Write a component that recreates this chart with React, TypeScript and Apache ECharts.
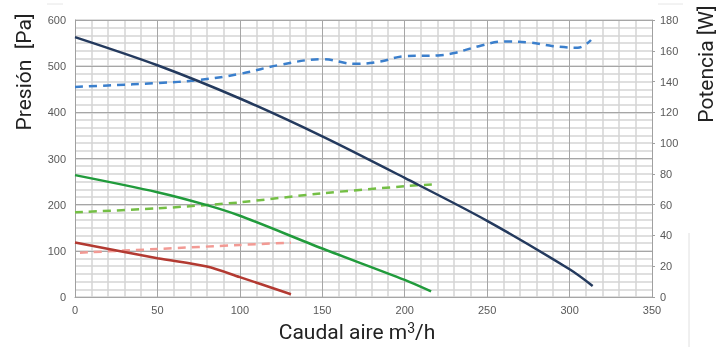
import React, { useEffect, useRef } from "react";
import * as echarts from "echarts";

// Pressure curves (left axis, Pa) vs flow (m3/h)
const navyFlow = [0, 50, 100, 150, 200, 250, 300, 314];
const navyPress = [563, 502, 430, 348, 258, 165, 60, 24];
const greenFlow = [0, 50, 80, 100, 150, 200, 216];
const greenPress = [264, 227, 199, 176, 105, 37, 12];
const redFlow = [0, 50, 80, 100, 131];
const redPress = [118, 84, 66, 43, 6];

// Power curves (right axis, W) vs flow
const blueFlow = [0, 20, 50, 75, 100, 125, 150, 170, 185, 200, 220, 230, 245, 260, 275, 290, 305, 313];
const bluePower = [136.5, 137.5, 139, 141, 145, 151, 154.5, 151.5, 153, 156.5, 157, 158.5, 163, 166, 165.5, 163, 162, 167];
const lgreenFlow = [0, 50, 80, 100, 150, 200, 217];
const lgreenPower = [55, 57.6, 59.8, 61.5, 67.4, 72, 73.2];
const pinkFlow = [3, 50, 100, 131];
const pinkPower = [28.8, 31.2, 33.8, 35.3];

const xTicks = [0, 50, 100, 150, 200, 250, 300, 350];
const leftTicks = [0, 100, 200, 300, 400, 500, 600];
const rightTicks = [0, 20, 40, 60, 80, 100, 120, 140, 160, 180];

const pairs = (xs: number[], ys: number[]) => xs.map((x, i) => [x, ys[i]]);

export default function App() {
  const ref = useRef<HTMLDivElement>(null);
  useEffect(() => {
    if (!ref.current) return;
    const chart = echarts.init(ref.current, undefined, { renderer: "svg" });
    const labelStyle = { color: "#595959", fontSize: 11, fontFamily: "Liberation Sans, Arial, sans-serif" };
    const titleFont = "'Liberation Sans Narrow', 'Roboto', sans-serif";
    chart.setOption({
      animation: false,
      grid: { left: 75, right: 67, top: 20, bottom: 50 },
      xAxis: {
        type: "value",
        min: xTicks[0],
        max: xTicks[xTicks.length - 1],
        interval: 50,
        axisLine: { show: true, lineStyle: { color: "#a0a0a0" } },
        axisTick: { show: false },
        axisLabel: { ...labelStyle, margin: 7 },
        splitLine: { show: true, lineStyle: { color: "#a6a6a6", width: 1 } },
        minorTick: { show: false, splitNumber: 5 },
        minorSplitLine: { show: true, lineStyle: { color: "#d4d4d4", width: 1.5 } },
      },
      yAxis: [
        {
          type: "value",
          min: leftTicks[0],
          max: leftTicks[leftTicks.length - 1],
          interval: 100,
          z: 3,
          axisLine: { show: true, lineStyle: { color: "#a0a0a0" } },
          axisTick: { show: false },
          axisLabel: { ...labelStyle, margin: 9 },
          splitLine: { show: true, lineStyle: { color: "#a6a6a6", width: 1 } },
        },
        {
          type: "value",
          position: "right",
          min: rightTicks[0],
          max: rightTicks[rightTicks.length - 1],
          interval: 20,
          axisLine: { show: true, lineStyle: { color: "#a0a0a0" } },
          axisTick: { show: true, length: 3, lineStyle: { color: "#a0a0a0" } },
          axisLabel: { ...labelStyle, margin: 8 },
          splitLine: { show: true, lineStyle: { color: "#d4d4d4", width: 1.5 } },
          minorTick: { show: false, splitNumber: 4 },
          minorSplitLine: { show: true, lineStyle: { color: "#d4d4d4", width: 1.5 } },
        },
      ],
      series: [
        {
          type: "line", yAxisIndex: 1, data: pairs(blueFlow, bluePower), smooth: 0.4, showSymbol: false,
          lineStyle: { color: "#3b7fcc", width: 2.5, type: [8, 6] },
        },
        {
          type: "line", yAxisIndex: 1, data: pairs(lgreenFlow, lgreenPower), smooth: 0.3, showSymbol: false,
          lineStyle: { color: "#74bf45", width: 2.5, type: [8, 6] },
        },
        {
          type: "line", yAxisIndex: 1, data: pairs(pinkFlow, pinkPower), smooth: 0.3, showSymbol: false,
          lineStyle: { color: "#f29a94", width: 2.5, type: [8, 6] },
        },
        {
          type: "line", yAxisIndex: 0, data: pairs(navyFlow, navyPress), smooth: 0.3, showSymbol: false,
          lineStyle: { color: "#243a5e", width: 2.5 },
        },
        {
          type: "line", yAxisIndex: 0, data: pairs(greenFlow, greenPress), smooth: 0.3, showSymbol: false,
          lineStyle: { color: "#219b3c", width: 2.5 },
        },
        {
          type: "line", yAxisIndex: 0, data: pairs(redFlow, redPress), smooth: 0.3, showSymbol: false,
          lineStyle: { color: "#b33a32", width: 2.5 },
        },
      ],
      graphic: [
        {
          type: "text", x: 24, y: 72, rotation: Math.PI / 2,
          style: { text: "Presión  [Pa]", font: `21px ${titleFont}`, fill: "#222", align: "center", verticalAlign: "middle" },
        },
        {
          type: "text", x: 706, y: 64, rotation: Math.PI / 2,
          style: { text: "Potencia [W]", font: `21px ${titleFont}`, fill: "#222", align: "center", verticalAlign: "middle" },
        },
        {
          type: "text", x: 357, y: 332,
          style: {
            text: "Caudal aire m{sup|3}/h",
            font: `21px ${titleFont}`,
            fill: "#222",
            align: "center",
            verticalAlign: "middle",
            rich: { sup: { fontSize: 14, fontFamily: titleFont, fill: "#222", verticalAlign: "top", padding: [0, 0, 8, 0] } },
          },
        },
        { type: "line", shape: { x1: 47, y1: 4, x2: 63, y2: 4 }, style: { stroke: "#e6e6e6", lineWidth: 1 } },
        { type: "line", shape: { x1: 658, y1: 4, x2: 683, y2: 4 }, style: { stroke: "#e6e6e6", lineWidth: 1 } },
        { type: "line", shape: { x1: 689, y1: 233, x2: 689, y2: 347 }, style: { stroke: "#e0e0e0", lineWidth: 1 } },
      ],
    });
    return () => chart.dispose();
  }, []);
  return <div ref={ref} style={{ position: "fixed", left: 0, top: 0, width: 719, height: 347 }} />;
}
